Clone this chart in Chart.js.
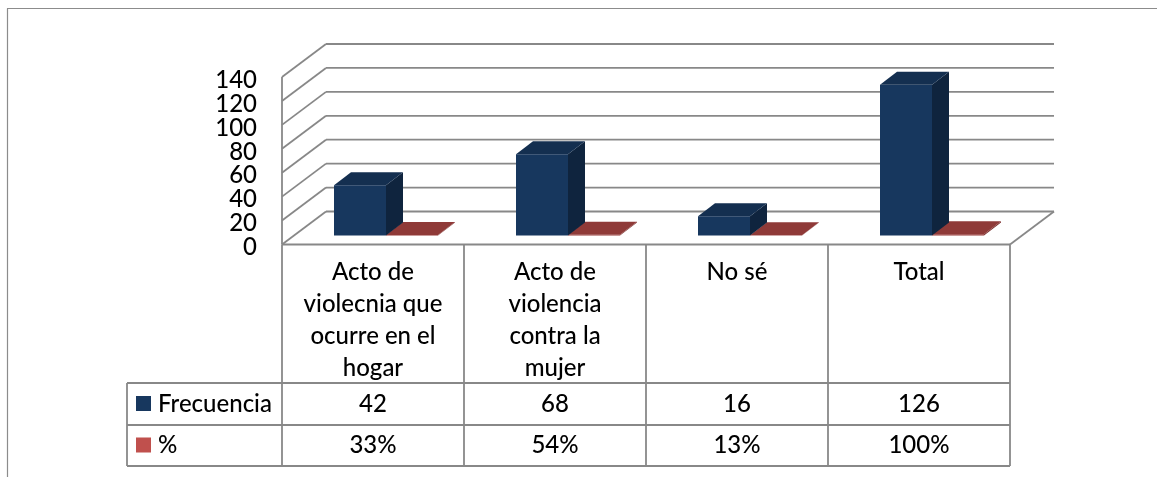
<!DOCTYPE html>
<html>
<head>
<meta charset="utf-8">
<style>
  html, body { margin: 0; padding: 0; background: #fff; }
  canvas { display: block; }
</style>
<script src="https://cdn.jsdelivr.net/npm/chart.js@4/dist/chart.umd.min.js"></script>
</head>
<body>
<canvas id="chart" width="1157" height="477"></canvas>
<script>
const categories = [
    ['Acto de', 'violecnia que', 'ocurre en el', 'hogar'],
    ['Acto de', 'violencia', 'contra la', 'mujer'],
    ['No sé'],
    ['Total']
];
const frecuencia = [42, 68, 16, 126];
const porcentaje = [0.33, 0.54, 0.13, 1];
const yTicks = [0, 20, 40, 60, 80, 100, 120, 140];

const FONT = 'Lato, Carlito, sans-serif';
const FONT_SIZE = 24;
const FONT_WEIGHT = 500;
const LINE = '#888888';

// pared de atras y separacion de la barra respecto al suelo
const WALL = { dx: 44, dy: -33 };
const BAR_OFFSET = { dx: 13, dy: -9 };
const BAR_DEPTH = { dx: 17, dy: -13 };

function strokeLine(ctx, x1, y1, x2, y2) {
    ctx.beginPath();
    ctx.moveTo(x1, y1);
    ctx.lineTo(x2, y2);
    ctx.stroke();
}

function fillPoly(ctx, pts, color) {
    ctx.fillStyle = color;
    ctx.beginPath();
    pts.forEach((p, i) => i ? ctx.lineTo(p[0], p[1]) : ctx.moveTo(p[0], p[1]));
    ctx.closePath();
    ctx.fill();
}

// paredes, suelo y lineas de division
const wallsPlugin = {
    id: 'walls',
    beforeDatasetsDraw(chart) {
        const { ctx, chartArea: a, scales: { y } } = chart;
        ctx.save();
        ctx.strokeStyle = LINE;
        ctx.lineWidth = 1.8;
        yTicks.forEach(v => {
            const py = y.getPixelForValue(v);
            strokeLine(ctx, a.left, py, a.left + WALL.dx, py + WALL.dy);
            strokeLine(ctx, a.left + WALL.dx, py + WALL.dy, a.right + WALL.dx, py + WALL.dy);
        });
        strokeLine(ctx, a.left, a.top, a.left, a.bottom);
        strokeLine(ctx, a.left, a.bottom, a.right, a.bottom);
        strokeLine(ctx, a.right, a.bottom, a.right + WALL.dx, a.bottom + WALL.dy);
        ctx.restore();
    },
    // cada serie se dibuja desplazada y con su cara superior y lateral
    beforeDatasetDraw(chart) {
        chart.ctx.save();
        chart.ctx.translate(BAR_OFFSET.dx, BAR_OFFSET.dy);
    },
    afterDatasetDraw(chart, args) {
        const ctx = chart.ctx;
        const ds = chart.data.datasets[args.index];
        args.meta.data.forEach(bar => {
            const l = bar.x - bar.width / 2;
            const r = bar.x + bar.width / 2;
            const d = BAR_DEPTH;
            fillPoly(ctx, [[r, bar.y], [r + d.dx, bar.y + d.dy], [r + d.dx, bar.base + d.dy], [r, bar.base]], ds.sideColor);
            fillPoly(ctx, [[l, bar.y], [l + d.dx, bar.y + d.dy], [r + d.dx, bar.y + d.dy], [r, bar.y]], ds.topColor);
        });
        ctx.restore();
    },
    // tabla de datos bajo el grafico y marco exterior
    afterDraw(chart) {
        const { ctx, chartArea: a, scales: { x } } = chart;
        const rows = [
            { name: 'Frecuencia', color: '#17375e', top: 383, bottom: 425, text: frecuencia.map(String) },
            { name: '%', color: '#c0504d', top: 425, bottom: 466, text: porcentaje.map(v => Math.round(v * 100) + '%') }
        ];
        const tableLeft = 127;
        ctx.save();
        ctx.strokeStyle = LINE;
        ctx.lineWidth = 1.8;
        const edges = categories.map((c, i) => x.getPixelForTick(i) - (a.right - a.left) / categories.length / 2);
        edges.push(a.right);
        edges.forEach(px => strokeLine(ctx, px, a.bottom, px, rows[1].bottom));
        strokeLine(ctx, tableLeft, rows[0].top, tableLeft, rows[1].bottom);
        strokeLine(ctx, tableLeft, rows[0].top, a.right, rows[0].top);
        strokeLine(ctx, tableLeft, rows[0].bottom, a.right, rows[0].bottom);
        strokeLine(ctx, tableLeft, rows[1].bottom, a.right, rows[1].bottom);

        ctx.font = FONT_WEIGHT + ' ' + FONT_SIZE + 'px ' + FONT;
        ctx.textBaseline = 'middle';
        rows.forEach(row => {
            const mid = (row.top + row.bottom) / 2;
            ctx.fillStyle = row.color;
            ctx.fillRect(136, mid - 8, 15, 15);
            ctx.fillStyle = '#000';
            ctx.textAlign = 'left';
            ctx.fillText(row.name, 158, mid);
            ctx.textAlign = 'center';
            row.text.forEach((t, i) => ctx.fillText(t, x.getPixelForTick(i), mid));
        });

        ctx.strokeStyle = '#8c8c8c';
        ctx.lineWidth = 1.2;
        strokeLine(ctx, 7.5, 8.5, 7.5, 477);
        strokeLine(ctx, 7, 8.5, 1157, 8.5);
        ctx.restore();
    }
};

new Chart(document.getElementById('chart'), {
    type: 'bar',
    data: {
        labels: categories,
        datasets: [
            {
                label: 'Frecuencia',
                data: frecuencia,
                backgroundColor: '#17375e',
                topColor: '#142f50',
                sideColor: '#0f243e',
                clip: false
            },
            {
                label: '%',
                data: porcentaje,
                backgroundColor: '#953735',
                topColor: '#8f3a38',
                sideColor: '#7a2d2b',
                clip: false
            }
        ]
    },
    plugins: [wallsPlugin],
    options: {
        responsive: false,
        animation: false,
        layout: { padding: { top: 77, right: 147, left: 0, bottom: 0 } },
        plugins: {
            legend: { display: false },
            tooltip: { enabled: false }
        },
        datasets: { bar: { categoryPercentage: 0.5714, barPercentage: 1 } },
        scales: {
            x: {
                grid: { display: false, drawTicks: false },
                border: { display: false },
                afterFit: scale => { scale.height = 232.5; },
                ticks: {
                    autoSkip: false,
                    maxRotation: 0,
                    minRotation: 0,
                    padding: 12,
                    color: '#000',
                    font: { family: FONT, size: FONT_SIZE, weight: FONT_WEIGHT, lineHeight: 1.33 }
                }
            },
            y: {
                min: 0,
                max: 140,
                grid: { display: false, drawTicks: false },
                border: { display: false },
                afterFit: scale => { scale.width = 282; },
                afterBuildTicks: scale => { scale.ticks = yTicks.map(value => ({ value })); },
                ticks: {
                    autoSkip: false,
                    padding: 25,
                    labelOffset: 3,
                    color: '#000',
                    font: { family: FONT, size: FONT_SIZE, weight: FONT_WEIGHT, lineHeight: 1.2 }
                }
            }
        }
    }
});
</script>
</body>
</html>
